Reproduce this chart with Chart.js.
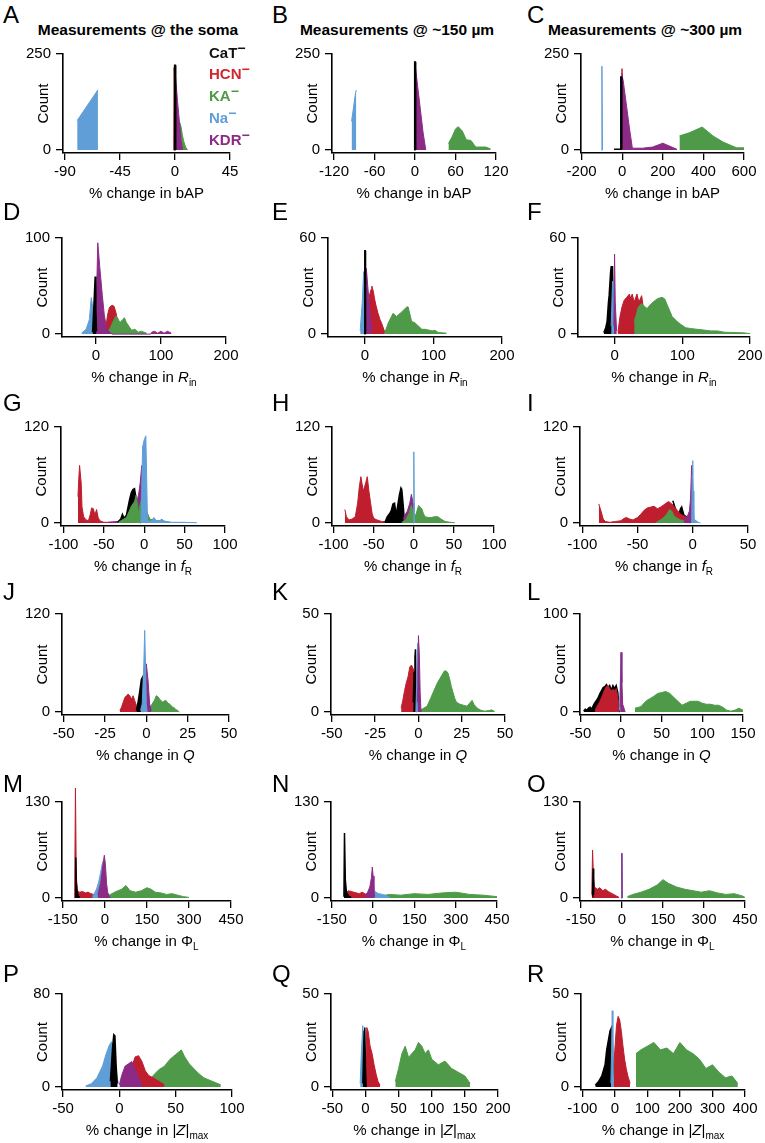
<!DOCTYPE html>
<html>
<head>
<meta charset="utf-8">
<script src="https://cdn.jsdelivr.net/npm/chart.js@4.4.1/dist/chart.umd.min.js"></script>
<style>
  body { margin: 0; background: #fff; width: 765px; height: 1143px; position: relative; overflow: hidden;
         font-family: "Liberation Sans", Arial, Helvetica, sans-serif; color: #000; }
  canvas { position: absolute; }
  .lt { position: absolute; font-size: 24px; line-height: 24px; }
  .hd { position: absolute; font-weight: bold; font-size: 15.5px; line-height: 18px; white-space: nowrap; transform: translateX(-50%); }
  .xl { position: absolute; font-size: 15px; line-height: 18px; white-space: nowrap; transform: translateX(-50%); }
  .xl sub { font-size: 10px; vertical-align: -4px; line-height: 0; }
  .lg { position: absolute; left: 209px; font-weight: bold; font-size: 15px; line-height: 18px; }
  .lg sup { font-size: 14px; vertical-align: 5px; line-height: 0; }
</style>
</head>
<body>
<script>
// CHANNELS
const chanNames = ["CaT", "HCN", "KA", "Na", "KDR"];
const chanColors = { CaT: "#000000", HCN: "#BE1E2D", KA: "#4E9A49", Na: "#5F9ED7", KDR: "#8C2B86" };
const legendColors = { CaT: "#111111", HCN: "#D2262D", KA: "#4E9A49", Na: "#5F9ED7", KDR: "#8C2B86" };

// ROW 1 : bAP
const A_xticks = [-90, -45, 0, 45];
const A_ymax = 250;
const A_cat = [[-0.6, 0], [-0.3, 221], [0.3, 221], [0.6, 0]];
const A_hcn = [[-1, 0], [-0.7, 215], [0, 215], [0.5, 0]];
const A_ka = [[1, 10], [2, 40], [3, 62], [4, 71], [5, 60], [6, 40], [7, 25], [8, 14], [9, 6], [10.4, 0]];
const A_na = [[-80, 77], [-63, 157]];
const A_kdr = [[0, 205], [1, 170], [2, 130], [3, 95], [4, 60], [5, 25], [6.3, 0]];

const B_xticks = [-120, -60, 0, 60, 120];
const B_ymax = 250;
const B_cat = [[-1, 0], [-0.5, 229], [0.5, 229], [1, 0]];
const B_hcn = [];
const B_ka = [[49.5, 17], [55, 35], [60, 55], [64, 61], [70, 50], [76, 27], [83, 25], [90, 8], [105, 8], [112, 3]];
const B_na = [[-94, 75], [-88, 150], [-87, 156]];
const B_kdr = [[0, 225], [4, 165], [8, 105], [12, 45], [16, 0]];

const C_xticks = [-200, 0, 200, 400, 600];
const C_ymax = 250;
const C_cat = [[-40, 2], [-10, 3], [-7, 190], [-4, 190], [-2, 3]];
const C_hcn = [[-3, 0], [-1, 212], [3, 212], [8, 40], [12, 0]];
const C_ka = [[282, 37], [330, 45], [394, 60], [447, 37], [497, 21], [563, 6], [600, 6]];
const C_na = [[-103, 0], [-100, 218], [-97, 0]];
const C_kdr = [[-3, 200], [5, 180], [20, 120], [35, 60], [50, 5], [100, 5], [150, 8], [200, 18], [235, 10], [270, 2]];

// ROW 2 : Rin
const D_xticks = [0, 100, 200];
const D_ymax = 100;
const D_cat = [[-5, 2], [-3, 30], [-2, 45], [-1, 60], [0, 25], [1, 3]];
const D_hcn = [[15, 5], [18, 20], [21, 28], [25, 30], [28, 29], [31, 22], [34, 12], [37, 4]];
const D_ka = [[16, 2], [22, 6], [27, 14], [31, 19], [34, 16], [37, 12], [41, 15], [44, 17], [47, 12], [51, 8], [55, 4], [60, 5], [65, 2], [70, 3], [78, 1]];
const D_na = [[-22, 1], [-15, 5], [-10, 15], [-7, 38], [-4, 25], [-1, 5]];
const D_kdr = [[0, 10], [3, 95], [6, 70], [10, 40], [13, 20], [16, 8], [20, 3], [25, 0], [84, 0], [86, 2], [90, 3], [95, 1], [100, 3], [105, 1], [110, 3], [116, 1]];

const E_xticks = [0, 100, 200];
const E_ymax = 60;
const E_cat = [[-0.8, 0], [-0.3, 52], [0.3, 52], [0.8, 0]];
const E_hcn = [[3, 10], [5, 20], [7, 25], [9, 28], [10, 30], [12, 27], [14, 22], [16, 18], [19, 13], [22, 9], [25, 6], [29, 1]];
const E_ka = [[29, 1], [34, 7], [41, 13], [46, 11], [54, 14], [61, 17], [63, 17], [68, 8], [73, 7], [78, 5], [83, 3], [88, 3], [98, 2], [102, 2.4], [107, 1], [119, 0.6]];
const E_na = [[-7, 2], [-4, 20], [-2, 39], [0, 5]];
const E_kdr = [[0, 40], [2, 41], [4, 30], [7, 15], [10, 3]];

const F_xticks = [0, 100, 200];
const F_ymax = 60;
const F_cat = [[-16, 1], [-13, 4], [-11, 8], [-9, 20], [-8, 24], [-6, 38], [-5, 42], [-3, 42], [-2, 10]];
const F_hcn = [[5, 1], [8, 11], [11, 17], [14, 21], [18, 23], [22, 25], [24, 22], [26, 25], [29, 20], [33, 25], [36, 20], [40, 24], [43, 15]];
const F_ka = [[29, 8], [32, 12], [35, 17], [40, 19], [45, 17], [48, 16], [52, 18], [57, 20], [63, 22], [70, 23], [74, 22], [78, 18], [85, 11], [92, 8], [98, 6], [105, 4], [112, 3.5], [122, 3], [132, 2.5], [142, 2], [152, 2], [162, 1.2], [175, 1], [190, 0.8], [200, 0.3]];
const F_na = [[-5, 5], [-3, 33], [-1, 30], [1, 10], [2.5, 0]];
const F_kdr = [[-1, 5], [0, 50], [1, 20], [3, 2]];

// ROW 3 : fR
const G_xticks = [-100, -50, 0, 50, 100];
const G_ymax = 120;
const G_cat = [[-33, 1], [-29, 5], [-27, 11], [-25, 6], [-22, 10], [-20, 20], [-18, 30], [-16, 38], [-14, 42], [-12, 43], [-10, 30], [-8, 15], [-6, 5], [-4, 0]];
const G_hcn = [[-82, 33], [-81, 55], [-80, 72], [-78, 50], [-77, 20], [-75, 8], [-72, 4], [-69, 3], [-67, 10], [-65, 19], [-63, 18], [-61, 10], [-59, 17], [-57, 7], [-55, 3], [-50, 1], [-40, 1]];
const G_ka = [[-32, 1], [-22, 7], [-16, 21], [-12, 27], [-10, 35], [-7, 13], [-5, 23], [-2, 35], [0, 35], [3, 15], [7, 5], [15, 3], [23, 3], [32, 1]];
const G_na = [[-4, 0], [-2, 95], [0, 104], [2, 109], [3, 60], [4, 3], [8, 2], [12, 7], [15, 3], [19, 3], [22, 5], [25, 2], [35, 1], [50, 1], [65, 0.5]];
const G_kdr = [[-45, 1], [-35, 2], [-30, 2], [-25, 3], [-20, 10], [-15, 30], [-12, 38], [-9, 28], [-7, 35], [-5, 50], [-3, 72], [-1, 40], [1, 10], [3, 0]];

const H_xticks = [-100, -50, 0, 50, 100];
const H_ymax = 120;
const H_cat = [[-36, 1], [-33, 8], [-30, 12], [-28, 16], [-26, 24], [-24, 25], [-22, 10], [-20, 22], [-18, 35], [-16, 44], [-15, 42], [-13, 20], [-12, 5]];
const H_hcn = [[-86, 17], [-84, 8], [-81, 4], [-77, 5], [-73, 8], [-70, 25], [-68, 45], [-66, 58], [-63, 40], [-60, 50], [-58, 58], [-56, 40], [-54, 26], [-52, 12], [-50, 6], [-46, 4], [-40, 2], [-30, 2], [-20, 2], [-15, 1]];
const H_ka = [[-15, 1], [-10, 4], [-6, 12], [-3, 22], [-1, 15], [1, 8], [3, 12], [6, 22], [8, 20], [10, 18], [12, 12], [14, 8], [18, 7], [22, 7], [26, 8], [30, 8], [34, 5], [39, 2], [45, 1], [51, 0.5]];
const H_na = [[-0.8, 0], [0, 89], [0.8, 0]];
const H_kdr = [[-13, 5], [-10, 12], [-8, 15], [-5, 25], [-3, 36], [-1, 25], [0, 5]];

const I_xticks = [-100, -50, 0, 50];
const I_ymax = 120;
const I_cat = [[-18, 28], [-15, 15], [-13, 9], [-11, 18], [-10, 20], [-8, 10], [-6, 8], [-4, 6]];
const I_hcn = [[-85, 24], [-83, 15], [-81, 5], [-79, 2], [-75, 1], [-70, 2], [-65, 3], [-62, 6], [-60, 7], [-57, 5], [-54, 4], [-50, 7], [-47, 11], [-44, 16], [-41, 19], [-38, 20], [-35, 21], [-32, 18], [-29, 20], [-26, 23], [-22, 27], [-19, 24], [-17, 21], [-14, 16], [-11, 11], [-8, 9], [-5, 7], [-2, 3]];
const I_ka = [[-33, 1], [-28, 5], [-24, 10], [-21, 17], [-19, 15], [-17, 9], [-14, 6], [-11, 4], [-8, 3], [-5, 2], [-2, 0]];
const I_na = [[-1, 0], [-0.5, 60], [0, 78], [0.5, 40], [1, 5], [3, 3], [5, 1], [7, 0]];
const I_kdr = [[-8, 3], [-5, 8], [-3, 15], [-2, 30], [-1, 72], [0, 40], [1, 0]];

// ROW 4 : Q
const J_xticks = [-50, -25, 0, 25, 50];
const J_ymax = 120;
const J_cat = [[-6, 2], [-5, 12], [-4, 25], [-3, 40], [-2.5, 42], [-2, 0]];
const J_hcn = [[-16, 2], [-15, 6], [-14, 12], [-13, 18], [-12, 20], [-11, 22], [-10, 20], [-9, 16], [-8, 20], [-7, 14], [-6, 8], [-5, 2]];
const J_ka = [[1, 1], [3, 8], [5, 15], [6, 20], [7, 19], [8, 16], [9, 14], [10, 12], [11, 14], [12, 14], [13, 11], [14, 10], [15, 8], [16, 6], [17, 5], [18, 3], [19, 2], [20, 0]];
const J_na = [[-3.5, 2], [-2.5, 10], [-1.5, 60], [-1, 100], [-0.5, 60], [0, 10], [0.5, 0]];
const J_kdr = [[-1, 5], [0, 59], [1, 40], [2, 10], [3, 2]];

const K_xticks = [-50, -25, 0, 25, 50];
const K_ymax = 50;
const K_cat = [[-3, 5], [-2.5, 20], [-2, 28], [-1.7, 32], [-1.3, 5], [-1, 0]];
const K_hcn = [[-10, 2], [-9, 6], [-8, 11], [-7, 15], [-6, 18], [-5, 23], [-4, 24], [-3, 22], [-2, 20], [-1.5, 5]];
const K_ka = [[1, 1], [3, 2], [5, 3], [7, 7], [9, 11], [11, 15], [13, 18], [15, 21], [16, 21], [17, 20], [18, 17], [19, 13], [20, 10], [21, 7], [22, 5], [24, 4], [26, 3.5], [28, 3], [30, 5], [31, 6], [32, 4], [34, 2], [36, 1], [38, 0.5], [41, 0.8], [42, 1.2], [44, 0.3]];
const K_na = [[-1.5, 0], [-1, 15], [-0.5, 35], [0, 20], [0.5, 2]];
const K_kdr = [[-0.5, 5], [0, 39], [0.5, 30], [1, 10], [1.5, 0]];

const L_xticks = [-50, 0, 50, 100, 150];
const L_ymax = 100;
const L_cat = [[-46, 1], [-44, 3], [-42, 2], [-40, 4], [-38, 5], [-36, 3], [-34, 7], [-32, 10], [-30, 12], [-28, 15], [-26, 19], [-24, 22], [-22, 25], [-20, 26], [-18, 28], [-16, 25], [-14, 27], [-12, 22], [-10, 27], [-8, 24], [-6, 27], [-4, 20], [-3, 8], [-2, 0]];
const L_hcn = [[-32, 2], [-30, 5], [-28, 8], [-26, 11], [-24, 15], [-22, 19], [-20, 23], [-18, 26], [-16, 27], [-14, 24], [-12, 22], [-10, 23], [-8, 22], [-6, 24], [-4, 15], [-2, 3]];
const L_ka = [[17, 4], [22, 5], [25, 6], [28, 9], [32, 12], [36, 14], [40, 16], [45, 19], [50, 20], [55, 21], [60, 19], [65, 15], [70, 11], [75, 7], [80, 9], [85, 11], [90, 11], [95, 11], [100, 9], [105, 8], [110, 8], [115, 7], [120, 7], [125, 5], [130, 2], [135, 1], [140, 2], [145, 4], [150, 2]];
const L_na = [[-2, 2], [-1, 30], [0, 60], [0.5, 30], [1, 2]];
const L_kdr = [[-1, 5], [0, 61], [1, 30], [2, 8], [4, 3], [5, 0]];

// ROW 5 : phase lead
const M_xticks = [-150, 0, 150, 300, 450];
const M_ymax = 130;
const M_cat = [[-106, 2], [-104, 55], [-102, 20], [-99, 8], [-95, 3], [-90, 1]];
const M_hcn = [[-108, 0], [-105, 150], [-102, 30], [-98, 10], [-90, 8], [-80, 9], [-70, 7], [-60, 8], [-50, 6], [-40, 5], [-30, 4], [-20, 2], [-10, 1]];
const M_ka = [[5, 2], [20, 5], [40, 9], [60, 12], [75, 17], [90, 10], [110, 8], [130, 10], [150, 14], [165, 12], [180, 8], [200, 7], [220, 5], [240, 6], [260, 4], [280, 2], [300, 1]];
const M_na = [[-45, 2], [-38, 6], [-30, 12], [-22, 22], [-15, 35], [-10, 45], [-6, 50], [-2, 30], [2, 5], [6, 0]];
const M_kdr = [[-25, 5], [-15, 20], [-10, 35], [-5, 50], [-2, 58], [2, 45], [6, 20], [10, 8], [15, 3], [20, 0]];

const N_xticks = [-150, 0, 150, 300, 450];
const N_ymax = 130;
const N_cat = [[-106, 2], [-104, 88], [-101, 25], [-97, 8], [-90, 3], [-80, 1]];
const N_hcn = [[-100, 6], [-90, 10], [-80, 9], [-70, 8], [-60, 7], [-50, 6], [-40, 8], [-30, 6], [-20, 4], [-10, 2]];
const N_ka = [[0, 2], [30, 3], [60, 5], [100, 4], [150, 6], [200, 5], [250, 7], [300, 8], [350, 5], [400, 4], [450, 2]];
const N_na = [[-5, 5], [0, 12], [10, 8], [20, 6], [35, 5], [50, 3], [60, 1]];
const N_kdr = [[-30, 3], [-20, 8], [-12, 15], [-6, 28], [-3, 42], [0, 30], [3, 10], [6, 2]];

const O_xticks = [-150, 0, 150, 300, 450];
const O_ymax = 130;
const O_cat = [[-107, 2], [-105, 40], [-103, 5]];
const O_hcn = [[-110, 5], [-107, 65], [-104, 30], [-100, 15], [-90, 12], [-80, 14], [-70, 10], [-60, 12], [-50, 9], [-40, 7], [-30, 5], [-20, 3], [-10, 1]];
const O_ka = [[20, 2], [40, 5], [70, 8], [100, 12], [130, 18], [150, 25], [170, 20], [200, 15], [230, 12], [260, 10], [290, 8], [320, 10], [350, 7], [380, 5], [410, 6], [440, 3], [450, 1]];
const O_na = [[-2, 0], [0, 60], [2, 0]];
const O_kdr = [[-1, 0], [0, 61], [1, 0]];

// ROW 6 : |Z|max
const P_xticks = [-50, 0, 50, 100];
const P_ymax = 80;
const P_cat = [[-8, 5], [-6, 35], [-5, 45], [-4, 44], [-3, 20], [-2, 3]];
const P_hcn = [[5, 2], [8, 10], [11, 18], [14, 26], [17, 27], [20, 22], [23, 14], [26, 10], [30, 8], [35, 5], [40, 2]];
const P_ka = [[25, 2], [30, 10], [35, 15], [40, 18], [45, 24], [50, 28], [55, 32], [58, 26], [62, 20], [66, 16], [70, 12], [75, 8], [80, 6], [85, 4], [90, 2]];
const P_na = [[-30, 1], [-25, 3], [-20, 8], [-15, 18], [-12, 28], [-9, 36], [-7, 39], [-5, 30], [-3, 15], [-1, 3]];
const P_kdr = [[0, 2], [2, 10], [5, 18], [8, 20], [11, 22], [14, 15], [17, 8], [20, 2]];

const Q_xticks = [-50, 0, 50, 100, 150, 200];
const Q_ymax = 50;
const Q_cat = [[-4, 2], [-2, 30], [-1, 32], [0, 10], [1, 0]];
const Q_hcn = [[0, 5], [2, 32], [4, 30], [7, 22], [10, 18], [13, 12], [16, 7], [19, 3], [22, 1]];
const Q_ka = [[45, 3], [50, 10], [55, 18], [60, 22], [65, 16], [70, 18], [75, 20], [80, 24], [85, 22], [90, 18], [95, 20], [100, 15], [110, 12], [120, 14], [130, 10], [140, 8], [150, 6], [158, 2]];
const Q_na = [[-8, 2], [-6, 20], [-4, 33], [-2, 15], [0, 2]];
const Q_kdr = [];

const R_xticks = [-100, 0, 100, 200, 300, 400];
const R_ymax = 50;
const R_cat = [[-60, 1], [-50, 3], [-40, 6], [-30, 12], [-25, 20], [-20, 25], [-15, 30], [-10, 32], [-7, 20], [-5, 5]];
const R_hcn = [[-5, 5], [0, 20], [5, 33], [10, 38], [15, 36], [20, 30], [25, 22], [30, 15], [35, 10], [40, 6], [47, 2]];
const R_ka = [[65, 18], [80, 20], [100, 22], [120, 24], [140, 20], [160, 21], [180, 18], [200, 24], [220, 20], [240, 18], [260, 15], [280, 10], [300, 12], [320, 8], [340, 5], [360, 6], [378, 2]];
const R_na = [[-12, 2], [-10, 20], [-8, 41], [-6, 20], [-4, 2]];
const R_kdr = [];

// X AXIS LABELS (one per row)
const xLabels = [
  "% change in bAP",
  "% change in <i>R</i><sub>in</sub>",
  "% change in <i>f</i><sub>R</sub>",
  "% change in <i>Q</i>",
  "% change in Φ<sub>L</sub>",
  "% change in |<i>Z</i>|<sub>max</sub>"
];
const headings = ["Measurements @ the soma", "Measurements @ ~150 µm", "Measurements @ ~300 µm"];

// LAYOUT
const rowTop = [50, 234, 423, 610, 798, 990];
const rowZero = [150, 334, 523, 712, 898, 1087];
const letterTop = [3, 200, 391, 580, 772, 962];
const letterLeft = [3, 272, 527];

const panels = [
  { id: "A", row: 0, col: 0, left: 63, right: 230, xmin: -91.6, xmax: 45, xticks: A_xticks, ymax: A_ymax,
    s: { CaT: A_cat, HCN: A_hcn, KA: A_ka, Na: A_na, KDR: A_kdr }, stack: ["KA", "Na", "KDR", "HCN", "CaT"] },
  { id: "B", row: 0, col: 1, left: 332, right: 496, xmin: -123, xmax: 120, xticks: B_xticks, ymax: B_ymax,
    s: { CaT: B_cat, HCN: B_hcn, KA: B_ka, Na: B_na, KDR: B_kdr }, stack: ["KA", "Na", "HCN", "KDR", "CaT"] },
  { id: "C", row: 0, col: 2, left: 581, right: 744, xmin: -203, xmax: 600, xticks: C_xticks, ymax: C_ymax,
    s: { CaT: C_cat, HCN: C_hcn, KA: C_ka, Na: C_na, KDR: C_kdr }, stack: ["KA", "HCN", "KDR", "CaT", "Na"] },
  { id: "D", row: 1, col: 0, left: 62, right: 226, xmin: -52, xmax: 200, xticks: D_xticks, ymax: D_ymax,
    s: { CaT: D_cat, HCN: D_hcn, KA: D_ka, Na: D_na, KDR: D_kdr }, stack: ["HCN", "KA", "Na", "KDR", "CaT"] },
  { id: "E", row: 1, col: 1, left: 328, right: 502, xmin: -54, xmax: 200, xticks: E_xticks, ymax: E_ymax,
    s: { CaT: E_cat, HCN: E_hcn, KA: E_ka, Na: E_na, KDR: E_kdr }, stack: ["KA", "HCN", "Na", "KDR", "CaT"] },
  { id: "F", row: 1, col: 2, left: 578, right: 750, xmin: -54, xmax: 200, xticks: F_xticks, ymax: F_ymax,
    s: { CaT: F_cat, HCN: F_hcn, KA: F_ka, Na: F_na, KDR: F_kdr }, stack: ["HCN", "KA", "CaT", "Na", "KDR"] },
  { id: "G", row: 2, col: 0, left: 61, right: 225, xmin: -103, xmax: 100, xticks: G_xticks, ymax: G_ymax,
    s: { CaT: G_cat, HCN: G_hcn, KA: G_ka, Na: G_na, KDR: G_kdr }, stack: ["HCN", "KDR", "CaT", "KA", "Na"] },
  { id: "H", row: 2, col: 1, left: 332, right: 494, xmin: -102, xmax: 100, xticks: H_xticks, ymax: H_ymax,
    s: { CaT: H_cat, HCN: H_hcn, KA: H_ka, Na: H_na, KDR: H_kdr }, stack: ["HCN", "CaT", "KDR", "KA", "Na"] },
  { id: "I", row: 2, col: 2, left: 580, right: 748, xmin: -102, xmax: 50, xticks: I_xticks, ymax: I_ymax,
    s: { CaT: I_cat, HCN: I_hcn, KA: I_ka, Na: I_na, KDR: I_kdr }, stack: ["CaT", "HCN", "KA", "KDR", "Na"] },
  { id: "J", row: 3, col: 0, left: 62, right: 229, xmin: -51, xmax: 50, xticks: J_xticks, ymax: J_ymax,
    s: { CaT: J_cat, HCN: J_hcn, KA: J_ka, Na: J_na, KDR: J_kdr }, stack: ["HCN", "KA", "CaT", "KDR", "Na"] },
  { id: "K", row: 3, col: 1, left: 331, right: 505, xmin: -50.5, xmax: 50, xticks: K_xticks, ymax: K_ymax,
    s: { CaT: K_cat, HCN: K_hcn, KA: K_ka, Na: K_na, KDR: K_kdr }, stack: ["HCN", "KA", "CaT", "Na", "KDR"] },
  { id: "L", row: 3, col: 2, left: 580, right: 743, xmin: -50.5, xmax: 150, xticks: L_xticks, ymax: L_ymax,
    s: { CaT: L_cat, HCN: L_hcn, KA: L_ka, Na: L_na, KDR: L_kdr }, stack: ["KA", "CaT", "HCN", "Na", "KDR"] },
  { id: "M", row: 4, col: 0, left: 62, right: 231, xmin: -153, xmax: 450, xticks: M_xticks, ymax: M_ymax,
    s: { CaT: M_cat, HCN: M_hcn, KA: M_ka, Na: M_na, KDR: M_kdr }, stack: ["KA", "HCN", "Na", "KDR", "CaT"] },
  { id: "N", row: 4, col: 1, left: 331, right: 497, xmin: -153, xmax: 450, xticks: N_xticks, ymax: N_ymax,
    s: { CaT: N_cat, HCN: N_hcn, KA: N_ka, Na: N_na, KDR: N_kdr }, stack: ["KA", "HCN", "Na", "KDR", "CaT"] },
  { id: "O", row: 4, col: 2, left: 580, right: 745, xmin: -153, xmax: 450, xticks: O_xticks, ymax: O_ymax,
    s: { CaT: O_cat, HCN: O_hcn, KA: O_ka, Na: O_na, KDR: O_kdr }, stack: ["KA", "HCN", "CaT", "Na", "KDR"] },
  { id: "P", row: 5, col: 0, left: 62, right: 232, xmin: -51, xmax: 100, xticks: P_xticks, ymax: P_ymax,
    s: { CaT: P_cat, HCN: P_hcn, KA: P_ka, Na: P_na, KDR: P_kdr }, stack: ["KA", "HCN", "KDR", "Na", "CaT"] },
  { id: "Q", row: 5, col: 1, left: 331, right: 498, xmin: -52, xmax: 200, xticks: Q_xticks, ymax: Q_ymax,
    s: { CaT: Q_cat, HCN: Q_hcn, KA: Q_ka, Na: Q_na, KDR: Q_kdr }, stack: ["KA", "HCN", "KDR", "Na", "CaT"] },
  { id: "R", row: 5, col: 2, left: 581, right: 745, xmin: -104, xmax: 400, xticks: R_xticks, ymax: R_ymax,
    s: { CaT: R_cat, HCN: R_hcn, KA: R_ka, Na: R_na, KDR: R_kdr }, stack: ["KA", "HCN", "CaT", "KDR", "Na"] }
];

const FONT = "'Liberation Sans', Arial, Helvetica, sans-serif";
const PAD_L = 62, PAD_R = 16, PAD_T = 10, X_AXIS_H = 32, GAP = 3;

function addDiv(cls, html, left, top, color) {
  let d = document.createElement("div");
  d.className = cls;
  d.innerHTML = html;
  d.style.left = left + "px";
  d.style.top = top + "px";
  if (color) d.style.color = color;
  document.body.appendChild(d);
  return d;
}

// PANEL
function drawPanel(p) {
  let top = rowTop[p.row], zero = rowZero[p.row];
  let plotW = p.right - p.left;
  let plotH = zero - top;

  let cv = document.createElement("canvas");
  cv.width = PAD_L + plotW + PAD_R;
  cv.height = PAD_T + plotH + GAP + X_AXIS_H;
  cv.style.left = (p.left - PAD_L) + "px";
  cv.style.top = (top - PAD_T) + "px";
  document.body.appendChild(cv);

  let n = p.stack.length;
  let datasets = p.stack.map((name, i) => ({
    label: name,
    data: p.s[name].map(pt => ({ x: pt[0], y: pt[1] })),
    borderColor: chanColors[name],
    backgroundColor: chanColors[name],
    borderWidth: name === "CaT" ? 1.5 : 1,
    pointRadius: 0,
    tension: 0,
    fill: "origin",
    clip: false,
    order: n - 1 - i
  }));

  let axisStyle = {
    grid: { drawOnChartArea: false, drawTicks: true, tickLength: 7, color: "#000", lineWidth: 1.3 },
    border: { display: true, color: "#000", width: 1.6 },
    ticks: { color: "#000", font: { family: FONT, size: 15 }, padding: 3, autoSkip: false, maxRotation: 0,
             callback: v => String(v) }
  };

  new Chart(cv, {
    type: "line",
    data: { datasets: datasets },
    options: {
      responsive: false,
      animation: false,
      devicePixelRatio: 1,
      layout: { padding: { left: 0, right: PAD_R, top: PAD_T, bottom: 0 } },
      plugins: { legend: { display: false }, tooltip: { enabled: false } },
      scales: {
        x: Object.assign({}, axisStyle, {
          type: "linear", min: p.xmin, max: p.xmax,
          afterBuildTicks: s => { s.ticks = p.xticks.map(v => ({ value: v })); },
          afterFit: s => { s.height = X_AXIS_H; }
        }),
        y: Object.assign({}, axisStyle, {
          type: "linear", min: -p.ymax * GAP / plotH, max: p.ymax,
          ticks: Object.assign({}, axisStyle.ticks, { padding: 5 }),
          afterBuildTicks: s => { s.ticks = [{ value: 0 }, { value: p.ymax }]; },
          afterFit: s => { s.width = PAD_L; },
          title: { display: true, text: "Count", color: "#000", font: { family: FONT, size: 15 }, padding: { top: 34, bottom: 0 } }
        })
      }
    }
  });

  addDiv("lt", p.id, letterLeft[p.col], letterTop[p.row]);
  addDiv("xl", xLabels[p.row], (p.left + p.right) / 2, zero + 34);
}

panels.forEach(drawPanel);

// HEADINGS
addDiv("hd", headings[0], 138, 21);
addDiv("hd", headings[1], 397, 21);
addDiv("hd", headings[2], 645, 21);

// LEGEND
let legY = [44, 65, 87, 109, 131];
chanNames.forEach((name, i) => {
  addDiv("lg", name + "<sup>−</sup>", 209, legY[i], legendColors[name]);
});
</script>
</body>
</html>
